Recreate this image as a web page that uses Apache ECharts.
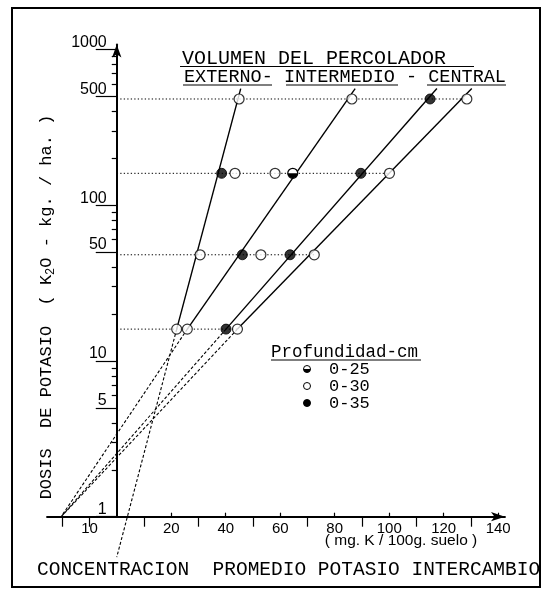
<!DOCTYPE html>
<html><head><meta charset="utf-8">
<script src="https://cdn.jsdelivr.net/npm/echarts@6/dist/echarts.min.js"></script>
<style>html,body{margin:0;padding:0;background:#fff}#c{width:542px;height:591px}</style>
</head><body><div id="c"></div>
<script>
// ---- data (x in mg K/100g on the chart's own scale, y = dose K2O kg/ha) ----
const doses = [16, 48, 160, 480];
const depth25 = [[64.6, 160]];
const depth30 = [[22.0,16],[25.9,16],[44.3,16],[30.6,48],[52.9,48],[72.5,48],[43.4,160],[58.1,160],[100.1,160],[44.9,480],[86.3,480],[128.5,480]];
const depth35 = [[40.1,16],[46.1,48],[63.6,48],[38.5,160],[89.6,160],[115.0,480]];
const lineLowX = [22.0, 25.9, 40.1, 44.3];
const lineLowDose = 16;
const lineTopX = [45.5, 87.5, 117.5, 130.3];
const lineTopDose = 560;
const extEndX = [0, -20.4, -20.4, -20.4];
const extEndDose = [0.55, 1, 1, 1];
const xTickPos = [-10, 20, 40, 60, 80, 100, 120, 140];
const xTickText = ['10','20','40','60','80','100','120','140'];
const xUpTicks = [20, 40, 60, 80, 100, 120, 140];
const xDownTicks = [-20, -10, 10, 30, 50, 70, 90, 110, 130];
const yLabelVals = [1, 5, 10, 50, 100, 500, 1000];
const yLabelText = ['1', '5', '10', '50', '100', '500', '1000'];
const yMinorTicks = [2,3,4,6,7,8,9,20,30,40,60,70,80,90,200,300,400,600,700,800,900];

const X_MIN = -25.6, X_MAX = 142.5, Y_MIN = 1, Y_MAX = 1074;
const GRID = {left: 47, right: 37, top: 44.5, bottom: 74.3};
const gridW = 542 - GRID.left - GRID.right;
const yOffset = -(0 - X_MIN) / (X_MAX - X_MIN) * gridW;

const allPts = depth25.concat(depth30, depth35);
const rowEnd = d => Math.max.apply(null, allPts.filter(p => p[1] === d).map(p => p[0]));

const BLACK = '#000';
const MONO = '"Liberation Mono", "DejaVu Sans Mono", monospace';
const SANS = '"Liberation Sans", Arial, sans-serif';

const series = [];
doses.forEach(d => series.push({
  type: 'line', data: [[0, d], [rowEnd(d), d]], symbol: 'none', silent: true, z: 1,
  lineStyle: {color: BLACK, width: 1, type: [1.3, 2.2]}
}));
lineLowX.forEach((x, i) => {
  series.push({
    type: 'line', data: [[x, lineLowDose], [lineTopX[i], lineTopDose]], symbol: 'none', silent: true, z: 2,
    lineStyle: {color: BLACK, width: 1.4}
  });
  series.push({
    type: 'line', data: [[x, lineLowDose], [extEndX[i], extEndDose[i]]], symbol: 'none', silent: true, z: 2, clip: false,
    lineStyle: {color: BLACK, width: 1.1, type: [3, 2]}
  });
});
series.push({
  type: 'scatter', data: depth30, symbol: 'circle', symbolSize: 10, z: 5,
  itemStyle: {color: '#fff', borderColor: BLACK, borderWidth: 1.2}
});
series.push({
  type: 'scatter', data: depth35, symbol: 'circle', symbolSize: 10, z: 5,
  itemStyle: {color: BLACK, borderColor: BLACK, borderWidth: 1}
});
series.push({
  type: 'custom', data: depth25, z: 6, encode: {x: 0, y: 1},
  renderItem: function (params, api) {
    const p = api.coord([api.value(0), api.value(1)]);
    return {type: 'group', children: [
      {type: 'circle', shape: {cx: p[0], cy: p[1], r: 5}, style: {fill: '#fff', stroke: BLACK, lineWidth: 1.2}},
      {type: 'sector', shape: {cx: p[0], cy: p[1], r0: 0, r: 5, startAngle: 0, endAngle: Math.PI, clockwise: true}, style: {fill: BLACK}}
    ]};
  }
});

const legendRows = [
  {y: 369, label: '0-25', kind: 'half'},
  {y: 386, label: '0-30', kind: 'open'},
  {y: 403, label: '0-35', kind: 'fill'}
];
const graphics = [
  {type: 'rect', shape: {x: 12, y: 8, width: 528, height: 579}, style: {fill: 'none', stroke: BLACK, lineWidth: 2}, z: 0},
  {type: 'text', x: 182, y: 59, style: {text: 'VOLUMEN DEL PERCOLADOR', fontFamily: MONO, fontSize: 20, fill: BLACK, verticalAlign: 'middle'}},
  {type: 'line', shape: {x1: 180, y1: 66.5, x2: 474, y2: 66.5}, style: {stroke: BLACK, lineWidth: 1.2}},
  {type: 'text', x: 184, y: 77, style: {text: 'EXTERNO- INTERMEDIO - CENTRAL', fontFamily: MONO, fontSize: 18.5, fill: BLACK, verticalAlign: 'middle'}},
  {type: 'line', shape: {x1: 183, y1: 85, x2: 272, y2: 85}, style: {stroke: BLACK, lineWidth: 1.2}},
  {type: 'line', shape: {x1: 286, y1: 85, x2: 398, y2: 85}, style: {stroke: BLACK, lineWidth: 1.2}},
  {type: 'line', shape: {x1: 427, y1: 85, x2: 506, y2: 85}, style: {stroke: BLACK, lineWidth: 1.2}},
  {type: 'text', x: 46, y: 307, rotation: Math.PI / 2, style: {
    text: '{a|DOSIS  DE POTASIO  ( K}{s|2}{a|O - kg. / ha. )}',
    rich: {a: {fontFamily: MONO, fontSize: 17, fill: BLACK}, s: {fontFamily: MONO, fontSize: 12, fill: BLACK, padding: [9, 0, 0, 0]}},
    align: 'center', verticalAlign: 'middle'}},
  {type: 'text', x: 37, y: 570, style: {text: 'CONCENTRACION  PROMEDIO POTASIO INTERCAMBIO', fontFamily: MONO, fontSize: 19.5, fill: BLACK, verticalAlign: 'middle'}},
  {type: 'text', x: 401, y: 541, style: {text: '( mg. K / 100g. suelo )', fontFamily: SANS, fontSize: 15.5, fill: BLACK, align: 'center', verticalAlign: 'middle'}},
  {type: 'text', x: 271, y: 352, style: {text: 'Profundidad-cm', fontFamily: MONO, fontSize: 17.5, fill: BLACK, verticalAlign: 'middle'}},
  {type: 'line', shape: {x1: 271, y1: 360, x2: 421, y2: 360}, style: {stroke: BLACK, lineWidth: 1.1}}
];
legendRows.forEach(r => {
  if (r.kind === 'half') {
    graphics.push({type: 'circle', shape: {cx: 307, cy: r.y, r: 3.5}, style: {fill: '#fff', stroke: BLACK, lineWidth: 1}});
    graphics.push({type: 'sector', shape: {cx: 307, cy: r.y, r0: 0, r: 3.5, startAngle: 0, endAngle: Math.PI, clockwise: true}, style: {fill: BLACK}});
  } else {
    graphics.push({type: 'circle', shape: {cx: 307, cy: r.y, r: 3.5}, style: {fill: r.kind === 'fill' ? BLACK : '#fff', stroke: BLACK, lineWidth: 1}});
  }
  graphics.push({type: 'text', x: 329, y: r.y, style: {text: r.label, fontFamily: MONO, fontSize: 17, fill: BLACK, verticalAlign: 'middle'}});
});

const chart = echarts.init(document.getElementById('c'), null, {renderer: 'canvas'});
chart.setOption({
  animation: false,
  backgroundColor: '#fff',
  grid: GRID,
  xAxis: [{
    type: 'value', min: X_MIN, max: X_MAX, position: 'bottom',
    axisLine: {show: true, onZero: false, symbol: ['none', 'arrow'], symbolSize: [7, 14], lineStyle: {color: BLACK, width: 1.8}},
    axisTick: {show: true, inside: true, length: 4, customValues: xUpTicks, lineStyle: {color: BLACK, width: 1.2}},
    axisLabel: {show: true, customValues: xTickPos, formatter: v => xTickText[xTickPos.indexOf(v)] || '', margin: 5,
      color: BLACK, fontFamily: SANS, fontSize: 15},
    splitLine: {show: false}
  }, {
    type: 'value', min: X_MIN, max: X_MAX, position: 'bottom',
    axisLine: {show: false, onZero: false},
    axisTick: {show: true, inside: false, length: 10, customValues: xDownTicks, lineStyle: {color: BLACK, width: 1.2}},
    axisLabel: {show: false},
    splitLine: {show: false}
  }],
  yAxis: [{
    type: 'log', logBase: 10, min: Y_MIN, max: Y_MAX, position: 'left', offset: yOffset,
    axisLine: {show: true, onZero: false, symbol: ['none', 'arrow'], symbolSize: [7, 13], lineStyle: {color: BLACK, width: 2}},
    axisTick: {show: true, length: 21, customValues: yLabelVals, lineStyle: {color: BLACK, width: 1.2}},
    axisLabel: {show: true, customValues: yLabelVals,
      formatter: v => { const i = yLabelVals.findIndex(t => Math.abs(t - v) / t < 1e-6); return i >= 0 ? yLabelText[i] : ''; },
      margin: 10, verticalAlign: 'bottom', color: BLACK, fontFamily: SANS, fontSize: 16, lineHeight: 14},
    splitLine: {show: false}
  }, {
    type: 'log', logBase: 10, min: Y_MIN, max: Y_MAX, position: 'left', offset: yOffset,
    axisLine: {show: false, onZero: false},
    axisTick: {show: true, length: 5, customValues: yMinorTicks, lineStyle: {color: BLACK, width: 1.2}},
    axisLabel: {show: false},
    splitLine: {show: false}
  }],
  graphic: graphics,
  series: series
});
</script></body></html>
